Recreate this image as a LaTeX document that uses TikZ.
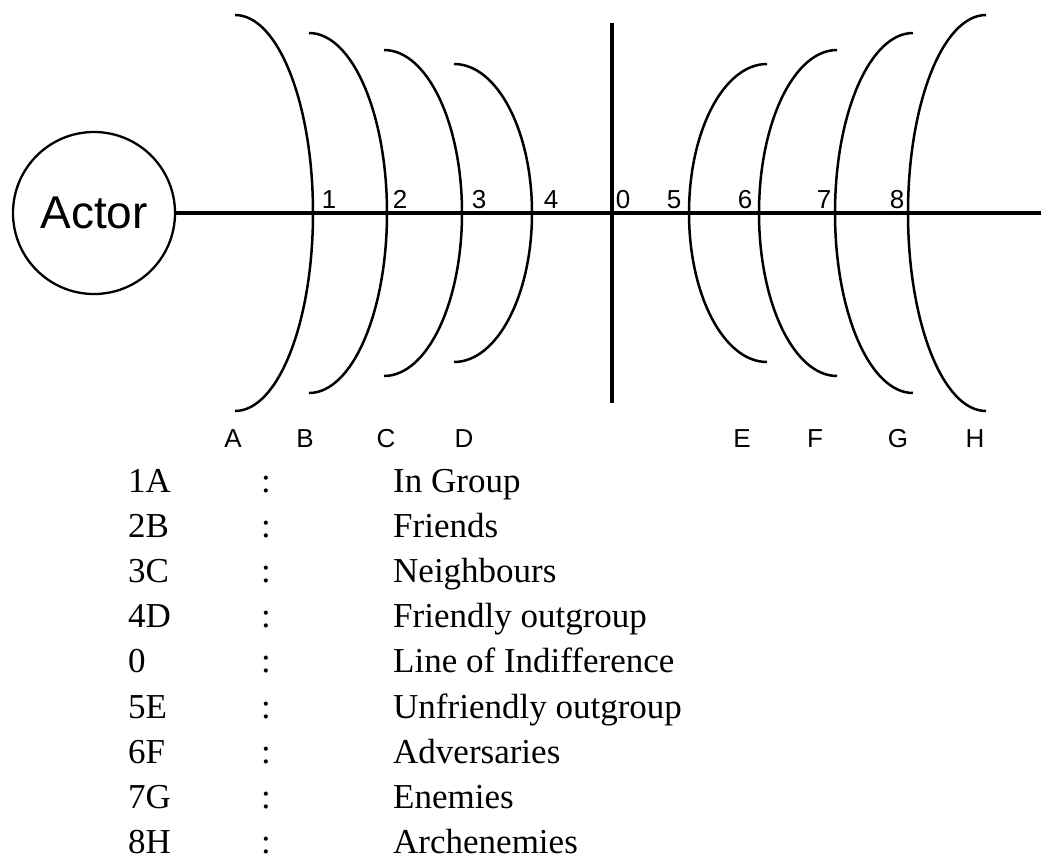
\documentclass[tikz,border=0pt]{standalone}
\usepackage{fontspec}
\setmainfont{Liberation Serif}
\setsansfont{Liberation Sans}

\begin{document}
\begin{tikzpicture}[x=1pt, y=-1pt, line join=round,
    ring/.style={line width=2.5pt},
    axis/.style={line width=3.3pt},
    tick/.style={font=\sffamily\fontsize{26}{26}\selectfont, inner sep=0pt, anchor=base},
    legend/.style={font=\fontsize{35}{35}\selectfont, inner sep=0pt, anchor=base west}]
  \useasboundingbox (0,0) rectangle (1041,862);

  % The actor on the left, with the axis running to the right edge
  \node[circle, draw, line width=2.3pt, minimum size=162pt, inner sep=0pt,
        font=\sffamily\fontsize{46}{46}\selectfont] (actor) at (94,213) {Actor};
  \coordinate (axisend) at (1041,213);
  \draw[axis] (actor) -- (axisend);

  % Line of indifference
  \coordinate (zerotop) at (612,23);
  \coordinate (zerobot) at (612,403);
  \draw[axis] (zerotop) -- (zerobot);

  % Half ellipses: left ones bulge right, right ones bulge left
  \foreach \cx/\h in {235/198, 309/180, 384/163, 454/149}
    \draw[ring] (\cx,{213-\h}) arc[start angle=90, end angle=-90, x radius=78pt, y radius=\h*1pt];
  \foreach \cx/\h in {767/149, 837/163, 913/180, 986/198}
    \draw[ring] (\cx,{213-\h}) arc[start angle=90, end angle=270, x radius=78pt, y radius=\h*1pt];

  % Numbers along the axis
  \foreach \x/\n in {329/1, 400/2, 479/3, 551/4, 623/0, 674/5, 745/6, 824/7, 897/8}
    \node[tick] (num\n) at (\x,208) {\n};

  % Letters under the arcs
  \foreach \x/\l in {233/A, 305/B, 386/C, 464/D, 742/E, 815/F, 898/G, 975/H}
    \node[tick] (let\l) at (\x,447) {\l};

  % Key
  \foreach \k/\code/\desc in {0/1A/In Group, 1/2B/Friends, 2/3C/Neighbours,
      3/4D/Friendly outgroup, 4/0/Line of Indifference, 5/5E/Unfriendly outgroup,
      6/6F/Adversaries, 7/7G/Enemies, 8/8H/Archenemies} {
    \node[legend] (code\k) at (128,{492+45.2*\k}) {\code};
    \node[legend, anchor=base] (colon\k) at (266,{492+45.2*\k}) {:};
    \node[legend] (desc\k) at (393,{492+45.2*\k}) {\desc};
  }
\end{tikzpicture}
\end{document}
